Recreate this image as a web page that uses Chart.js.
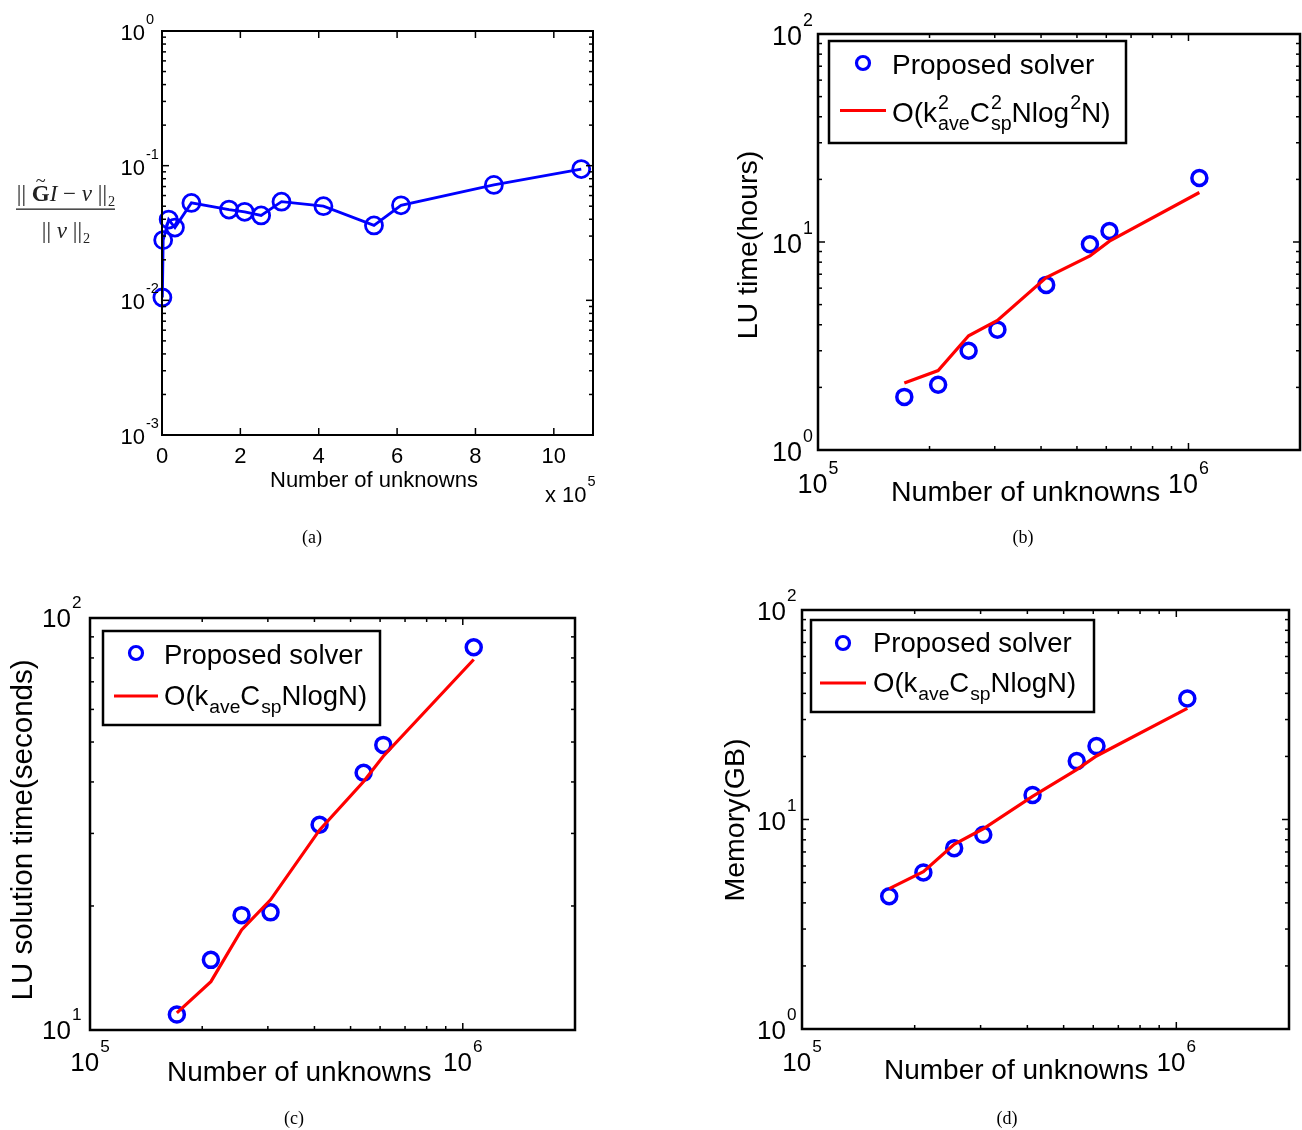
<!DOCTYPE html>
<html>
<head>
<meta charset="utf-8">
<title>Solver scaling</title>
<script src="https://cdn.jsdelivr.net/npm/chart.js@4.4.1/dist/chart.umd.min.js"></script>
<style>
    html, body { margin: 0; padding: 0; background: #fff; }
    #fig { position: relative; width: 1302px; height: 1130px; overflow: hidden; }
    #fig canvas { position: absolute; left: 0; top: 0; }
</style>
</head>
<body>
<div id="fig">
    <canvas id="chartA" width="1302" height="1130"></canvas>
    <canvas id="chartB" width="1302" height="1130"></canvas>
    <canvas id="chartC" width="1302" height="1130"></canvas>
    <canvas id="chartD" width="1302" height="1130"></canvas>
</div>
<script>
// ---- data ----
// (a) relative error vs number of unknowns
const unknownsA = [1000, 3000, 17000, 33000, 75000, 171000, 211000, 253000, 305000, 412000, 541000, 610000, 847000, 1070000];
const relErrorA = [0.0105, 0.028, 0.0398, 0.0347, 0.0529, 0.0472, 0.0454, 0.0427, 0.054, 0.050, 0.036, 0.0508, 0.072, 0.0944];

// (b)-(d) share the same meshes
const unknowns = [171000, 211000, 255000, 305000, 413000, 542000, 612000, 1070000];
const luHours = [1.80, 2.06, 3.0, 3.79, 6.22, 9.75, 11.3, 20.3];
const luHoursFit = [2.10, 2.41, 3.54, 4.20, 6.75, 8.57, 10.1, 17.3];
const solveSeconds = [10.9, 14.8, 19.0, 19.3, 31.5, 42.1, 49.2, 84.9];
const solveSecondsFit = [11.0, 13.1, 17.5, 20.7, 30.6, 40.1, 46.2, 79.3];
const memoryGB = [4.30, 5.59, 7.30, 8.45, 13.1, 19.0, 22.4, 37.8];
const memoryGBFit = [4.68, 5.64, 7.62, 9.03, 12.9, 17.3, 20.1, 33.9];

// tick labels
const xTicksA = [0, 2, 4, 6, 8, 10];      // x 10^5
const yExpA = [-3, -2, -1, 0];
const xExpLog = [5, 6];
const yExpB = [0, 1, 2];
const yExpC = [1, 2];
const yExpD = [0, 1, 2];

const W = 1302, H = 1130;
const SANS = '"Liberation Sans", Arial, Helvetica, sans-serif';
const SERIF = '"Liberation Serif", "Times New Roman", serif';
const BLUE = '#0000ff';
const RED = '#ff0000';

function points(xs, ys) {
    return xs.map((x, i) => ({ x: x, y: ys[i] }));
}

// minor + major positions of a log axis
function logTickValues(min, max) {
    const out = [];
    for (let e = Math.floor(Math.log10(min)); e <= Math.ceil(Math.log10(max)); e++) {
        for (let m = 1; m <= 9; m++) {
            const v = m * Math.pow(10, e);
            if (v >= min * 0.999 && v <= max * 1.001) out.push({ v: v, major: m === 1 });
        }
    }
    return out;
}

// draws text pieces with stacked super/subscripts, returns width
function drawRich(ctx, x, y, parts, size, family, opt) {
    opt = opt || {};
    const small = size * (opt.smallRatio || 0.68);
    const supDy = size * (opt.supDy || 0.42);
    const subDy = size * (opt.subDy || 0.28);
    let cx = x;
    ctx.textAlign = 'left';
    ctx.textBaseline = 'alphabetic';
    parts.forEach(p => {
        ctx.font = (p.style || '') + ' ' + size + 'px ' + family;
        if (p.t) {
            ctx.fillText(p.t, cx, y);
            cx += ctx.measureText(p.t).width;
        }
        ctx.font = small + 'px ' + family;
        let adv = 0;
        if (p.sup) {
            ctx.fillText(p.sup, cx + 1, y - supDy);
            adv = Math.max(adv, ctx.measureText(p.sup).width + 1);
        }
        if (p.sub) {
            ctx.fillText(p.sub, cx + 1, y + subDy);
            adv = Math.max(adv, ctx.measureText(p.sub).width + 1);
        }
        cx += adv;
    });
    return cx - x;
}

function measureRich(ctx, parts, size, family, opt) {
    opt = opt || {};
    const small = size * (opt.smallRatio || 0.68);
    let w = 0;
    parts.forEach(p => {
        ctx.font = (p.style || '') + ' ' + size + 'px ' + family;
        if (p.t) w += ctx.measureText(p.t).width;
        ctx.font = small + 'px ' + family;
        let adv = 0;
        if (p.sup) adv = Math.max(adv, ctx.measureText(p.sup).width + 1);
        if (p.sub) adv = Math.max(adv, ctx.measureText(p.sub).width + 1);
        w += adv;
    });
    return w;
}

const powOpt = { smallRatio: 0.66, supDy: 0.72 };

// MATLAB-like frame, inward ticks, labels, legend
function axesPlugin(p) {
    return {
        id: 'matlabAxes' + p.key,
        afterDraw(chart) {
            const ctx = chart.ctx;
            const xs = chart.scales.x, ys = chart.scales.y;
            const a = chart.chartArea;
            ctx.save();
            ctx.fillStyle = '#000';
            ctx.strokeStyle = '#000';

            // ticks
            ctx.lineWidth = 1.5;
            const seg = (x1, y1, x2, y2) => { ctx.beginPath(); ctx.moveTo(x1, y1); ctx.lineTo(x2, y2); ctx.stroke(); };
            const xt = p.xType === 'logarithmic'
                ? logTickValues(p.xMin, p.xMax)
                : xTicksA.map(v => ({ v: v * 1e5, major: true }));
            xt.forEach(t => {
                const px = xs.getPixelForValue(t.v);
                const len = t.major ? 7 : 4;
                seg(px, a.bottom, px, a.bottom - len);
                seg(px, a.top, px, a.top + len);
            });
            logTickValues(p.yMin, p.yMax).forEach(t => {
                const py = ys.getPixelForValue(t.v);
                const len = t.major ? 7 : 4;
                seg(a.left, py, a.left + len, py);
                seg(a.right, py, a.right - len, py);
            });

            // frame
            ctx.lineWidth = p.frameWidth;
            ctx.strokeRect(a.left, a.top, a.right - a.left, a.bottom - a.top);

            // x tick labels
            if (p.xType === 'logarithmic') {
                xExpLog.forEach(e => {
                    const parts = [{ t: '10', sup: String(e) }];
                    const w = measureRich(ctx, parts, p.tickSize, SANS, powOpt);
                    drawRich(ctx, xs.getPixelForValue(Math.pow(10, e)) - w / 2, p.xTickBase, parts, p.tickSize, SANS, powOpt);
                });
            } else {
                ctx.font = p.tickSize + 'px ' + SANS;
                ctx.textAlign = 'center';
                xTicksA.forEach(v => ctx.fillText(String(v), xs.getPixelForValue(v * 1e5), p.xTickBase));
                drawRich(ctx, 545, 502, [{ t: 'x 10', sup: '5' }], p.tickSize, SANS, powOpt);
            }

            // y tick labels
            p.yExp.forEach(e => {
                const py = ys.getPixelForValue(Math.pow(10, e));
                ctx.font = p.tickSize + 'px ' + SANS;
                const wb = ctx.measureText('10').width;
                drawRich(ctx, a.left - p.yLabGap - wb, py + p.yTickDy, [{ t: '10', sup: String(e) }], p.tickSize, SANS, powOpt);
            });

            // x title
            ctx.font = p.titleSize + 'px ' + SANS;
            ctx.textAlign = 'left';
            ctx.fillText('Number of unknowns', p.xTitle[0], p.xTitle[1]);

            // y title
            if (p.yTitle) {
                ctx.save();
                ctx.translate(p.yTitlePos[0], p.yTitlePos[1]);
                ctx.rotate(-Math.PI / 2);
                ctx.textAlign = 'center';
                ctx.textBaseline = 'middle';
                ctx.font = p.yTitleSize + 'px ' + SANS;
                ctx.fillText(p.yTitle, 0, 0);
                ctx.restore();
            } else {
                drawFraction(ctx);
            }

            // legend
            if (p.legend) drawLegend(ctx, p.legend);

            // panel label
            ctx.font = '18px ' + SERIF;
            ctx.textAlign = 'center';
            ctx.textBaseline = 'alphabetic';
            ctx.fillText(p.caption, p.captionPos[0], p.captionPos[1]);
            ctx.restore();
        }
    };
}

// ||G~I - v||_2 / ||v||_2 label of panel (a)
function drawFraction(ctx) {
    const size = 23;
    const cx = 66;
    const num = [
        { t: '|| ' },
        { t: 'G', style: 'bold' },
        { t: 'I', style: 'italic' },
        { t: ' \u2212 ' },
        { t: 'v', style: 'italic' },
        { t: ' ||', sub: '2' }
    ];
    const den = [{ t: '|| ' }, { t: 'v', style: 'italic' }, { t: ' ||', sub: '2' }];
    const fo = { smallRatio: 0.62, subDy: 0.22 };
    ctx.fillStyle = '#222';
    const wn = measureRich(ctx, num, size, SERIF, fo);
    const x0 = cx - wn / 2;
    drawRich(ctx, x0, 201, num, size, SERIF, fo);
    // tilde over G
    ctx.font = size + 'px ' + SERIF;
    const wbar = ctx.measureText('|| ').width;
    ctx.font = 'bold ' + size + 'px ' + SERIF;
    const wG = ctx.measureText('G').width;
    ctx.font = (size * 0.8) + 'px ' + SERIF;
    ctx.textAlign = 'center';
    ctx.fillText('~', x0 + wbar + wG / 2, 187);
    const wd = measureRich(ctx, den, size, SERIF, fo);
    drawRich(ctx, cx - wd / 2, 238, den, size, SERIF, fo);
    ctx.fillRect(16, 208.5, 99, 1.3);
    ctx.fillStyle = '#000';
}

function drawLegend(ctx, L) {
    ctx.save();
    ctx.fillStyle = '#fff';
    ctx.fillRect(L.box[0], L.box[1], L.box[2] - L.box[0], L.box[3] - L.box[1]);
    ctx.lineWidth = 2.5;
    ctx.strokeStyle = '#000';
    ctx.strokeRect(L.box[0], L.box[1], L.box[2] - L.box[0], L.box[3] - L.box[1]);
    // marker entry
    ctx.strokeStyle = BLUE;
    ctx.lineWidth = 3.2;
    ctx.beginPath();
    ctx.arc(L.marker[0], L.marker[1], 6.5, 0, Math.PI * 2);
    ctx.stroke();
    ctx.fillStyle = '#000';
    ctx.font = L.size + 'px ' + SANS;
    ctx.textAlign = 'left';
    ctx.fillText('Proposed solver', L.text1[0], L.text1[1]);
    // line entry
    ctx.strokeStyle = RED;
    ctx.lineWidth = 3;
    ctx.beginPath();
    ctx.moveTo(L.line[0], L.line[2]);
    ctx.lineTo(L.line[1], L.line[2]);
    ctx.stroke();
    drawRich(ctx, L.text2[0], L.text2[1], L.fitLabel, L.size, SANS, { smallRatio: 0.7, supDy: 0.46, subDy: 0.3 });
    ctx.restore();
}

const fitLabelLU = [
    { t: 'O(k', sup: '2', sub: 'ave' },
    { t: 'C', sup: '2', sub: 'sp' },
    { t: 'Nlog', sup: '2' },
    { t: 'N)' }
];
const fitLabelLin = [
    { t: 'O(k', sub: 'ave' },
    { t: 'C', sub: 'sp' },
    { t: 'NlogN)' }
];

function seriesSets(values, fit) {
    return [
        {
            label: 'O fit', data: points(unknowns, fit), order: 0,
            borderColor: RED, borderWidth: 3.2, pointRadius: 0, fill: false, tension: 0
        },
        {
            label: 'Proposed solver', data: points(unknowns, values), order: 1,
            showLine: false, borderColor: BLUE, backgroundColor: 'rgba(0,0,0,0)',
            pointRadius: 7.5, pointBorderWidth: 3.5, pointStyle: 'circle'
        }
    ];
}

const panels = [
    {
        key: 'A', canvas: 'chartA', area: { l: 162, t: 31, r: 593, b: 435 },
        xType: 'linear', xMin: 0, xMax: 1.1e6, yMin: 1e-3, yMax: 1, yExp: yExpA,
        frameWidth: 2, tickSize: 22, xTickBase: 463, yLabGap: 17, yTickDy: 9,
        titleSize: 22, xTitle: [270, 487], yTitle: null,
        caption: '(a)', captionPos: [312, 543],
        datasets: [{
            label: 'error', data: points(unknownsA, relErrorA),
            borderColor: BLUE, backgroundColor: 'rgba(0,0,0,0)', borderWidth: 2.8,
            pointRadius: 8.5, pointBorderWidth: 2.8, tension: 0, fill: false
        }]
    },
    {
        key: 'B', canvas: 'chartB', area: { l: 818, t: 34, r: 1300, b: 450 },
        xType: 'logarithmic', xMin: 1e5, xMax: 2e6, yMin: 1, yMax: 100, yExp: yExpB,
        frameWidth: 2.5, tickSize: 27, xTickBase: 493, yLabGap: 16, yTickDy: 11,
        titleSize: 28.5, yTitleSize: 28.5, xTitle: [891, 501], yTitle: 'LU time(hours)', yTitlePos: [749, 245],
        caption: '(b)', captionPos: [1023, 543],
        legend: {
            box: [829, 41, 1126, 143], marker: [863, 63], text1: [892, 74],
            line: [840, 886, 110.5], text2: [892, 122], size: 28, fitLabel: fitLabelLU
        },
        datasets: seriesSets(luHours, luHoursFit)
    },
    {
        key: 'C', canvas: 'chartC', area: { l: 90, t: 618, r: 575, b: 1030 },
        xType: 'logarithmic', xMin: 1e5, xMax: 2e6, yMin: 10, yMax: 100, yExp: yExpC,
        frameWidth: 2.5, tickSize: 26, xTickBase: 1071, yLabGap: 19, yTickDy: 9,
        titleSize: 28, yTitleSize: 29.5, xTitle: [167, 1081], yTitle: 'LU solution time(seconds)', yTitlePos: [24, 830],
        caption: '(c)', captionPos: [294, 1124],
        legend: {
            box: [103, 631, 380, 725], marker: [136, 653], text1: [164, 664],
            line: [114, 158, 696], text2: [164, 705], size: 27.5, fitLabel: fitLabelLin
        },
        datasets: seriesSets(solveSeconds, solveSecondsFit)
    },
    {
        key: 'D', canvas: 'chartD', area: { l: 802, t: 610, r: 1289, b: 1029 },
        xType: 'logarithmic', xMin: 1e5, xMax: 2e6, yMin: 1, yMax: 100, yExp: yExpD,
        frameWidth: 2.5, tickSize: 26, xTickBase: 1071, yLabGap: 16, yTickDy: 10,
        titleSize: 28, yTitleSize: 28.5, xTitle: [884, 1079], yTitle: 'Memory(GB)', yTitlePos: [736, 820],
        caption: '(d)', captionPos: [1007, 1124],
        legend: {
            box: [811, 620, 1094, 712], marker: [843, 643], text1: [873, 652],
            line: [820, 866, 683], text2: [873, 692], size: 27.5, fitLabel: fitLabelLin
        },
        datasets: seriesSets(memoryGB, memoryGBFit)
    }
];

panels.forEach(p => {
    const a = p.area;
    new Chart(document.getElementById(p.canvas), {
        type: 'line',
        data: { datasets: p.datasets },
        options: {
            responsive: false,
            animation: false,
            devicePixelRatio: 1,
            events: [],
            clip: false,
            layout: {
                autoPadding: false,
                padding: { left: a.l, top: a.t, right: W - a.r, bottom: H - a.b }
            },
            plugins: { legend: { display: false }, tooltip: { enabled: false } },
            scales: {
                x: { type: p.xType, min: p.xMin, max: p.xMax, display: false },
                y: { type: 'logarithmic', min: p.yMin, max: p.yMax, display: false }
            }
        },
        plugins: [axesPlugin(p)]
    });
});
</script>
</body>
</html>
